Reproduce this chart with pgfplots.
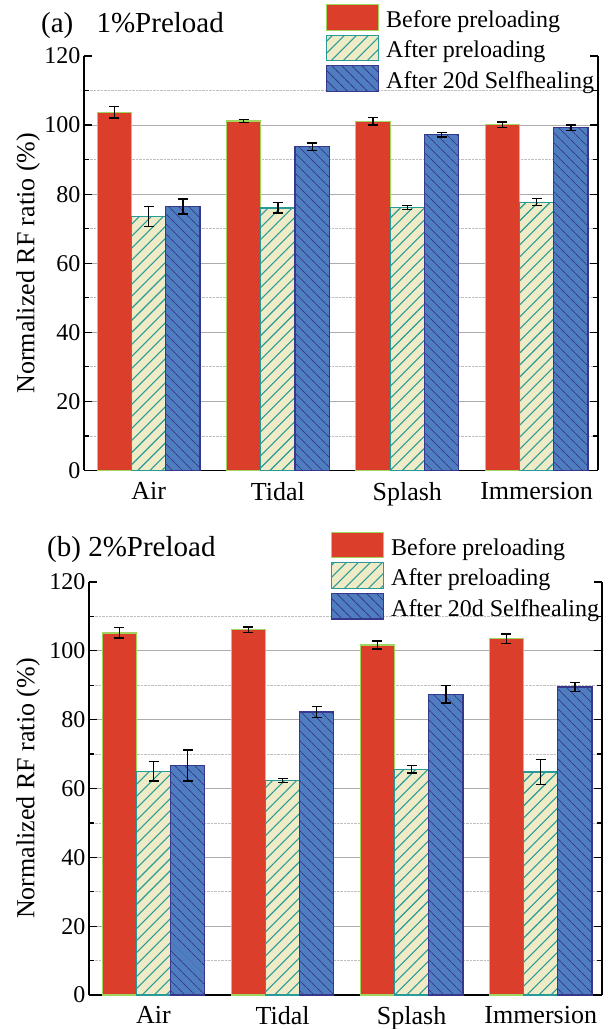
\documentclass[border=0pt]{standalone}
\usepackage{fontspec}
\setmainfont{Liberation Serif}
\usepackage{pgfplots}
\pgfplotsset{compat=1.18}
\usetikzlibrary{patterns.meta}

\definecolor{cred}{RGB}{219,62,43}
\definecolor{cgreen}{RGB}{160,214,96}
\definecolor{cyel}{RGB}{238,235,198}
\definecolor{cteal}{RGB}{40,155,152}
\definecolor{cblue}{RGB}{78,125,192}
\definecolor{cnavy}{RGB}{55,56,140}

\pgfplotsset{
 mystyle/.style={
  scale only axis,
  ymin=0, ymax=120, xmin=0.5, xmax=4.475,
  axis x line*=bottom, axis y line*=box,
  axis line style={-, line width=1.5pt, black},
  ytick={0,20,...,120}, minor y tick num=1,
  yminorgrids=true, minor grid style={densely dotted, gray!50, line width=0.8pt},
  extra y ticks={20,40,60,80,100}, extra y tick labels={},
  extra y tick style={ymajorgrids=true, major grid style={gray!65, line width=1pt}},
  xtick={1,2,3,4}, xticklabels={Air,Tidal,Splash,Immersion},
  x tick style={draw=none},
  major tick length=8pt, minor tick length=5pt,
  tick style={black, line width=1.2pt},
  y tick label style={font=\fontsize{24}{24}\selectfont},
  x tick label style={font=\fontsize{26}{26}\selectfont, yshift=0pt},
  /pgf/number format/assume math mode=true,
  ylabel={Normalized RF ratio (\%)},
  ybar, bar width=0.265,
  legend cell align=left,
  legend image code/.code={\draw[##1] (0pt,-12.75pt) rectangle (52pt,12.75pt);},
  legend style={anchor=north west, draw=none, fill=none, inner sep=0pt, outer sep=0pt,
    row sep=3.9pt, column sep=7pt, font=\fontsize{24}{24}\selectfont,
    nodes={inner sep=0pt, text height=22pt, text depth=2pt}},
 },
 redbar/.style={fill=cred, draw=cgreen, line width=1.2pt},
 yelbar/.style={fill=cyel, draw=cteal, line width=1.2pt,
   postaction={pattern={Lines[angle=45,distance=8.5pt,line width=1.1pt]}, pattern color=cteal}},
 bluebar/.style={fill=cblue, draw=cnavy, line width=1.2pt,
   postaction={pattern={Lines[angle=-45,distance=7.4pt,line width=1.1pt]}, pattern color=cnavy}},
 errp/.style={draw=none, fill=none, forget plot,
   error bars/.cd, y dir=both, y explicit,
   error bar style={draw=black, line width=1.4pt},
   error mark options={draw=black, rotate=90, mark size=5pt, line width=1.4pt}},
}

\begin{document}
\begin{tikzpicture}
% ---------------- (a) ----------------
\begin{axis}[mystyle, at={(84pt,558.5pt)}, anchor=south west,
  width=514pt, height=414.5pt,
  ylabel style={font=\fontsize{26}{26}\selectfont, at={(axis description cs:-0.0856,0.5)}, anchor=south, inner sep=0pt},
  legend style={at={(0.4708,1.1254)}}]
\addplot[redbar, bar shift=-0.265] coordinates {(1,103.7) (2,101.2) (3,101.1) (4,100.1)};
\addplot[yelbar, bar shift=0] coordinates {(1,73.5) (2,76.0) (3,76.2) (4,77.7)};
\addplot[bluebar, bar shift=0.265] coordinates {(1,76.4) (2,93.7) (3,97.2) (4,99.2)};
\legend{Before preloading, After preloading, After 20d Selfhealing}
\addplot[bar shift=-0.265, errp] coordinates {(1,103.7) +- (0,1.6) (2,101.2) +- (0,0.4) (3,101.1) +- (0,1.1) (4,100.1) +- (0,0.8)};
\addplot[bar shift=0, errp] coordinates {(1,73.5) +- (0,2.9) (2,76.0) +- (0,1.5) (3,76.2) +- (0,0.6) (4,77.7) +- (0,1.0)};
\addplot[bar shift=0.265, errp] coordinates {(1,76.4) +- (0,2.2) (2,93.7) +- (0,1.1) (3,97.2) +- (0,0.6) (4,99.2) +- (0,0.8)};
\end{axis}
% ---------------- (b) ----------------
\begin{axis}[mystyle, at={(89pt,34pt)}, anchor=south west,
  width=513pt, height=413pt,
  ylabel style={font=\fontsize{26}{26}\selectfont, at={(axis description cs:-0.0955,0.5)}, anchor=south, inner sep=0pt},
  legend style={at={(0.4717,1.1218)}}]
\addplot[redbar, bar shift=-0.265] coordinates {(1,105.2) (2,106.1) (3,101.7) (4,103.5)};
\addplot[yelbar, bar shift=0] coordinates {(1,65.0) (2,62.3) (3,65.6) (4,64.8)};
\addplot[bluebar, bar shift=0.265] coordinates {(1,66.7) (2,82.2) (3,87.4) (4,89.5)};
\legend{Before preloading, After preloading, After 20d Selfhealing}
\addplot[bar shift=-0.265, errp] coordinates {(1,105.2) +- (0,1.5) (2,106.1) +- (0,0.8) (3,101.7) +- (0,1.2) (4,103.5) +- (0,1.4)};
\addplot[bar shift=0, errp] coordinates {(1,65.0) +- (0,2.8) (2,62.3) +- (0,0.6) (3,65.6) +- (0,1.1) (4,64.8) +- (0,3.6)};
\addplot[bar shift=0.265, errp] coordinates {(1,66.7) +- (0,4.5) (2,82.2) +- (0,1.6) (3,87.4) +- (0,2.6) (4,89.5) +- (0,1.3)};
\end{axis}
\node[anchor=base west, font=\fontsize{29}{29}\selectfont, inner sep=0pt] at (41pt,996pt) {(a)\hspace{0.8em}1\%Preload};
\node[anchor=base west, font=\fontsize{29}{29}\selectfont, inner sep=0pt] at (47pt,472pt) {(b) 2\%Preload};
\pgfresetboundingbox
\path (0,0) rectangle (608pt,1029pt);
\end{tikzpicture}
\end{document}
